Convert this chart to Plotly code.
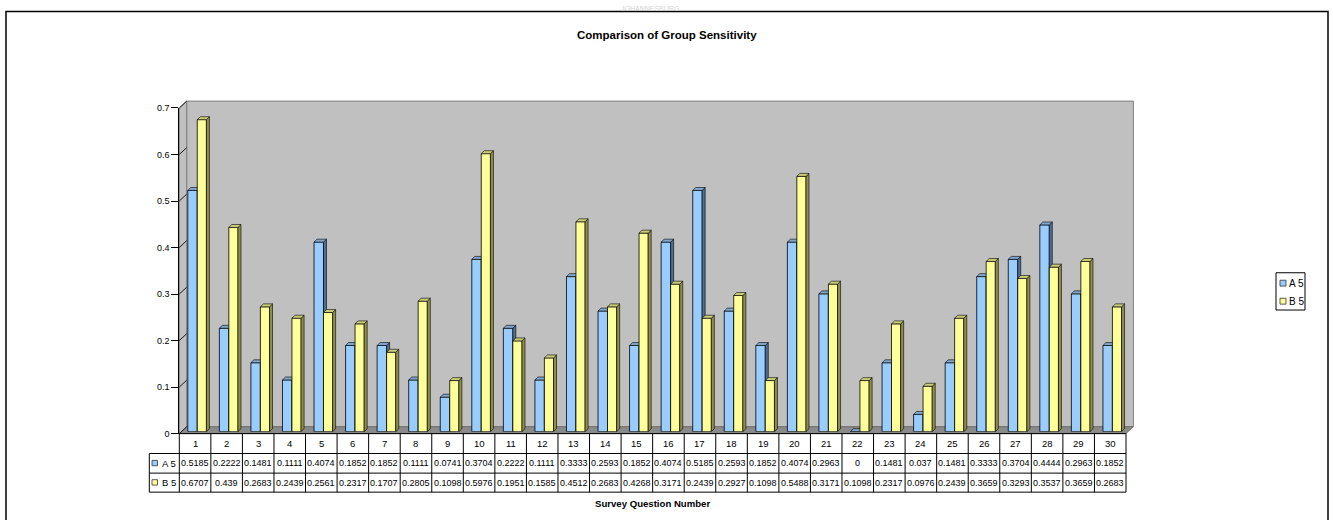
import plotly.graph_objects as go

W, H = 1333, 520
FONT = "Liberation Sans, Arial, sans-serif"

# ---- data -------------------------------------------------------------
questions = list(range(1, 31))
a5 = [0.5185, 0.2222, 0.1481, 0.1111, 0.4074, 0.1852, 0.1852, 0.1111, 0.0741, 0.3704,
      0.2222, 0.1111, 0.3333, 0.2593, 0.1852, 0.4074, 0.5185, 0.2593, 0.1852, 0.4074,
      0.2963, 0, 0.1481, 0.037, 0.1481, 0.3333, 0.3704, 0.4444, 0.2963, 0.1852]
b5 = [0.6707, 0.439, 0.2683, 0.2439, 0.2561, 0.2317, 0.1707, 0.2805, 0.1098, 0.5976,
      0.1951, 0.1585, 0.4512, 0.2683, 0.4268, 0.3171, 0.2439, 0.2927, 0.1098, 0.5488,
      0.3171, 0.1098, 0.2317, 0.0976, 0.2439, 0.3659, 0.3293, 0.3537, 0.3659, 0.2683]
series_names = ["A 5", "B 5"]
y_ticks = [0, 0.1, 0.2, 0.3, 0.4, 0.5, 0.6, 0.7]
Y_MAX = 0.7

# ---- pseudo-3D geometry (pixels) --------------------------------------
FRONT_L, FRONT_R, FRONT_Y0, FRONT_YT = 179.3, 1126.0, 437.0, 105.0
DEPTH_X, DEPTH_Y = 7.4, 7.0
BACK_L, BACK_R = FRONT_L + DEPTH_X, FRONT_R + DEPTH_X
BACK_Y0, BACK_YT = FRONT_Y0 - DEPTH_Y, FRONT_YT - DEPTH_Y
BAR_SHIFT = 2.0
BAR_L, BAR_R = FRONT_L + BAR_SHIFT, FRONT_R + BAR_SHIFT
BAR_Y0, BAR_YT = FRONT_Y0 - BAR_SHIFT, FRONT_YT - BAR_SHIFT
PX_PER_UNIT = (FRONT_Y0 - FRONT_YT) / Y_MAX
COL_PX = (FRONT_R - FRONT_L) / len(questions)
BAR_DEPTH = 3.0

ROW_EDGES = [437.0, 457.3, 477.3, 496.7]
KEY_L = 149.3


def px(x):
    return x / W


def py(y):
    return 1 - y / H


def seg(x0, y0, x1, y1, color="black", width=1, layer="above"):
    return dict(type="line", xref="paper", yref="paper",
                x0=px(x0), y0=py(y0), x1=px(x1), y1=py(y1),
                line=dict(color=color, width=width), layer=layer)


def poly(points, fill, color, width, layer="below"):
    d = "M " + " L ".join(f"{px(x):.6f},{py(y):.6f}" for x, y in points) + " Z"
    return dict(type="path", xref="paper", yref="paper", path=d,
                fillcolor=fill, line=dict(color=color, width=width), layer=layer)


def rect(x0, y0, x1, y1, fill, color, width, layer="above"):
    return dict(type="rect", xref="paper", yref="paper",
                x0=px(x0), y0=py(y0), x1=px(x1), y1=py(y1),
                fillcolor=fill, line=dict(color=color, width=width), layer=layer)


def label(text, x, y, size=9, bold=False, xanchor="center", xref="paper", color="black"):
    return dict(text=f"<b>{text}</b>" if bold else text,
                x=x if xref != "paper" else px(x), y=py(y),
                xref=xref, yref="paper", xanchor=xanchor, yanchor="middle",
                showarrow=False, font=dict(family=FONT, size=size, color=color))


fig = go.Figure()

# ---- bars: front faces as Bar traces, side/top faces as filled outlines ----
styles = [
    # values, name, offset, width, front, top, side, axes
    (a5, series_names[0], -0.294, 0.30, "#99CCFF", "#7FA6CF", "#4F6F90", ("x3", "y3")),
    (b5, series_names[1], 0.006, 0.29, "#FFFF99", "#CCCC77", "#8F8F4A", ("x4", "y4")),
]
dx = BAR_DEPTH / COL_PX
dy = BAR_DEPTH / PX_PER_UNIT
for vals, name, off, wid, c_front, c_top, c_side, (xa, ya) in styles:
    fig.add_trace(go.Bar(
        x=questions, y=vals, width=wid, offset=off, name=name,
        marker=dict(color=c_front, line=dict(color="black", width=0.8)),
        xaxis=xa, yaxis=ya, showlegend=False,
    ))
    side_x, side_y, top_x, top_y = [], [], [], []
    for q, h in zip(questions, vals):
        xl = q + off
        xr = xl + wid
        side_x += [xr, xr + dx, xr + dx, xr, xr, None]
        side_y += [0, dy, h + dy, h, 0, None]
        top_x += [xl, xr, xr + dx, xl + dx, xl, None]
        top_y += [h, h, h + dy, h + dy, h, None]
    fig.add_trace(go.Scatter(x=side_x, y=side_y, mode="lines", fill="toself",
                             fillcolor=c_side, line=dict(color="black", width=0.6),
                             hoverinfo="skip", showlegend=False, xaxis=xa, yaxis=ya))
    fig.add_trace(go.Scatter(x=top_x, y=top_y, mode="lines", fill="toself",
                             fillcolor=c_top, line=dict(color="black", width=0.6),
                             hoverinfo="skip", showlegend=False, xaxis=xa, yaxis=ya))

# ---- walls, floor, frame ----------------------------------------------
shapes = [
    rect(6, 6.5, 1328, 540, "rgba(0,0,0,0)", "black", 1.5, layer="below"),
    rect(BACK_L, BACK_YT, BACK_R, BACK_Y0, "#C0C0C0", "#808080", 1, layer="below"),
    poly([(FRONT_L, FRONT_Y0), (FRONT_L, FRONT_YT), (BACK_L, BACK_YT), (BACK_L, BACK_Y0)],
         "#C0C0C0", "#808080", 1),
    poly([(FRONT_L, FRONT_Y0), (FRONT_R, FRONT_Y0), (BACK_R, BACK_Y0), (BACK_L, BACK_Y0)],
         "#8A8A8A", "#6A6A6A", 0.8),
]
# gridlines continuing across the side wall
for v in y_ticks:
    yf = FRONT_Y0 - v * PX_PER_UNIT
    shapes.append(seg(FRONT_L, yf, BACK_L, yf - DEPTH_Y, color="#1a1a1a", width=1, layer="below"))

# ---- data table ---------------------------------------------------------
shapes.append(seg(FRONT_L, ROW_EDGES[0], FRONT_R, ROW_EDGES[0]))
for yr in ROW_EDGES[1:]:
    shapes.append(seg(KEY_L, yr, FRONT_R, yr))
shapes.append(seg(KEY_L, ROW_EDGES[1], KEY_L, ROW_EDGES[3]))
for k in range(len(questions) + 1):
    xk = FRONT_L + k * COL_PX
    shapes.append(seg(xk, ROW_EDGES[0], xk, ROW_EDGES[3]))

annotations = []
row_mid = [(ROW_EDGES[i] + ROW_EDGES[i + 1]) / 2 for i in range(3)]
for q in questions:
    annotations.append(label(str(q), q, row_mid[0], size=9.5, xref="x2"))
for q, va, vb in zip(questions, a5, b5):
    annotations.append(label(f"{va:g}", q, row_mid[1], size=9, xref="x2"))
    annotations.append(label(f"{vb:g}", q, row_mid[2], size=9, xref="x2"))

key_colors = [styles[0][4], styles[1][4]]
for name, col, ym in zip(series_names, key_colors, row_mid[1:]):
    shapes.append(rect(152, ym - 3, 157.5, ym + 2.5, col, "#333333", 0.8))
    annotations.append(label(name, 159.5, ym, size=9.5, xanchor="left"))

# ---- legend -------------------------------------------------------------
shapes.append(rect(1276, 273, 1305, 311, "white", "black", 1))
for name, col, ym in zip(series_names, key_colors, [283.6, 302.0]):
    shapes.append(rect(1280, ym - 3, 1286, ym + 3, col, "#333333", 0.8))
    annotations.append(label(name, 1287, ym, size=10, xanchor="left"))

# ---- titles ---------------------------------------------------------------
annotations.append(label("JOHANNESBURG", 650, 3.2, size=7, color="#d4d4d4"))
annotations.append(label("Comparison of Group Sensitivity", 666.7, 31, size=11.5, bold=True))
annotations.append(label("Survey Question Number", 652.5, 508.5, size=9.6, bold=True))

hidden_x = dict(range=[0.5, 30.5], showgrid=False, zeroline=False, showline=False,
                showticklabels=False, ticks="", fixedrange=True)
hidden_y = dict(range=[0, Y_MAX], showgrid=False, zeroline=False, showline=False,
                showticklabels=False, ticks="", fixedrange=True)

fig.update_layout(
    width=W, height=H,
    margin=dict(l=0, r=0, t=0, b=0),
    paper_bgcolor="white", plot_bgcolor="rgba(0,0,0,0)",
    showlegend=False,
    font=dict(family=FONT, size=9, color="black"),
    # back wall: carries the horizontal gridlines
    xaxis=dict(hidden_x, domain=[px(BACK_L), px(BACK_R)], anchor="y"),
    yaxis=dict(domain=[py(BACK_Y0), py(BACK_YT)], anchor="x", range=[0, Y_MAX],
               tickvals=y_ticks, showgrid=True, gridcolor="#1a1a1a", gridwidth=1,
               zeroline=True, zerolinecolor="#1a1a1a", zerolinewidth=1,
               showticklabels=False, ticks="", showline=False, fixedrange=True),
    # front edge: value axis with labels
    xaxis2=dict(hidden_x, domain=[px(FRONT_L), px(FRONT_R)], anchor="y2"),
    yaxis2=dict(domain=[py(FRONT_Y0), py(FRONT_YT)], anchor="x2", range=[0, Y_MAX],
                tickvals=y_ticks, ticktext=[f"{v:g}" for v in y_ticks],
                showgrid=False, zeroline=False, showline=True, linecolor="black",
                linewidth=1, ticks="outside", ticklen=7, tickwidth=1, tickcolor="black",
                tickfont=dict(family=FONT, size=9, color="black"), fixedrange=True),
    # bar plane (series A, then series B drawn over it)
    xaxis3=dict(hidden_x, domain=[px(BAR_L), px(BAR_R)], anchor="y3"),
    yaxis3=dict(hidden_y, domain=[py(BAR_Y0), py(BAR_YT)], anchor="x3"),
    xaxis4=dict(hidden_x, overlaying="x3", anchor="y4"),
    yaxis4=dict(hidden_y, overlaying="y3", anchor="x4"),
    shapes=shapes,
    annotations=annotations,
)

fig.write_html("out.html")
